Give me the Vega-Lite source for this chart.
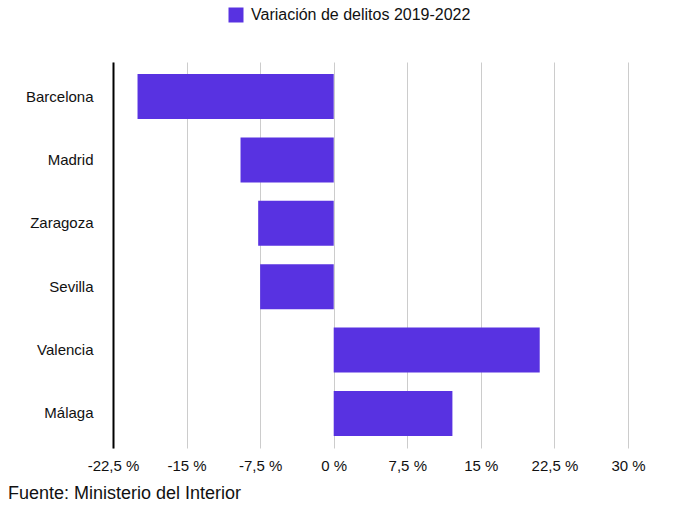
{
  "$schema": "https://vega.github.io/schema/vega-lite/v6.json",
  "width": 515,
  "height": 386,
  "autosize": "none",
  "padding": {"left": 113, "top": 62, "right": 52, "bottom": 57},
  "background": "white",
  "config": {
    "font": "Liberation Sans",
    "view": {"stroke": null}
  },
  "title": {
    "text": "Fuente: Ministerio del Interior",
    "orient": "bottom",
    "anchor": "start",
    "frame": "group",
    "dx": -105,
    "offset": 12,
    "fontSize": 18,
    "fontWeight": "normal",
    "color": "#111111"
  },
  "data": {
    "values": [
      {"ciudad": "Barcelona", "variacion": -20.0, "serie": "Variación de delitos 2019-2022"},
      {"ciudad": "Madrid", "variacion": -9.5, "serie": "Variación de delitos 2019-2022"},
      {"ciudad": "Zaragoza", "variacion": -7.7, "serie": "Variación de delitos 2019-2022"},
      {"ciudad": "Sevilla", "variacion": -7.5, "serie": "Variación de delitos 2019-2022"},
      {"ciudad": "Valencia", "variacion": 21.0, "serie": "Variación de delitos 2019-2022"},
      {"ciudad": "Málaga", "variacion": 12.1, "serie": "Variación de delitos 2019-2022"}
    ]
  },
  "mark": {"type": "bar"},
  "encoding": {
    "y": {
      "field": "ciudad",
      "type": "nominal",
      "sort": null,
      "scale": {"paddingInner": 0.29, "paddingOuter": 0.19},
      "axis": {
        "title": null,
        "ticks": false,
        "domain": true,
        "domainColor": "#000000",
        "domainWidth": 2,
        "labelPadding": 20,
        "labelFontSize": 15,
        "labelColor": "#111111",
        "grid": false
      }
    },
    "x": {
      "field": "variacion",
      "type": "quantitative",
      "scale": {"domain": [-22.5, 30], "nice": false, "zero": false},
      "axis": {
        "title": null,
        "values": [-22.5, -15, -7.5, 0, 7.5, 15, 22.5, 30],
        "labelExpr": "replace(toString(datum.value), '.', ',') + ' %'",
        "domain": false,
        "ticks": false,
        "grid": true,
        "gridColor": "#cccccc",
        "gridWidth": 1,
        "labelPadding": 10,
        "labelFontSize": 15,
        "labelColor": "#111111",
        "labelFlush": false
      }
    },
    "color": {
      "field": "serie",
      "type": "nominal",
      "scale": {"range": ["#5832E1"]},
      "legend": {
        "title": null,
        "orient": "none",
        "legendX": 115,
        "legendY": -55,
        "symbolType": "square",
        "symbolSize": 225,
        "symbolStrokeWidth": 0,
        "labelFontSize": 16,
        "labelLimit": 400,
        "labelColor": "#111111",
        "labelOffset": 7
      }
    }
  }
}
